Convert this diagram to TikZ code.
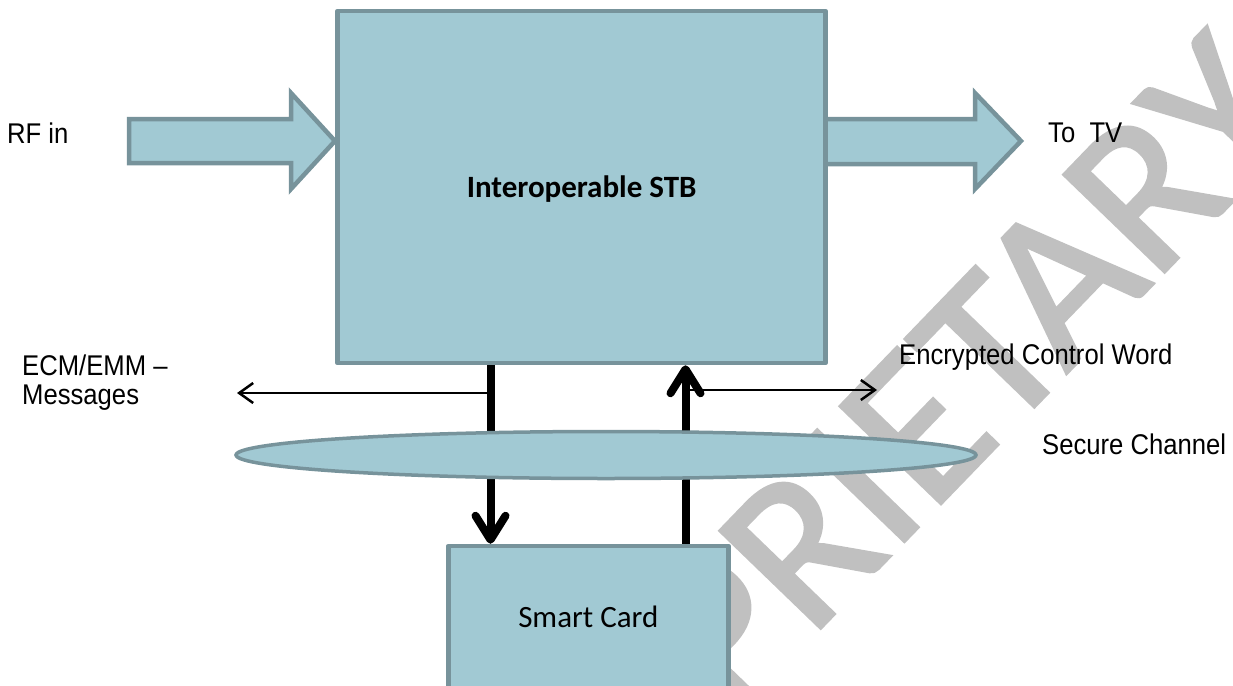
\documentclass[tikz,border=0pt]{standalone}
\usepackage{fontspec}
\setmainfont{Liberation Sans}
\newfontfamily\labelfont[FakeStretch=0.9]{Liberation Sans}
\newfontfamily\boxfont{Carlito}
\newfontfamily\wmfont[FakeBold=1.6]{Carlito}
\usetikzlibrary{arrows.meta,shapes.geometric}
\definecolor{stbfill}{RGB}{161,201,211}
\definecolor{stbline}{RGB}{119,147,155}
\definecolor{markgray}{RGB}{192,192,192}

\begin{document}
\begin{tikzpicture}[x=1pt,y=-1pt,
  unit/.style={rectangle, draw=stbline, fill=stbfill, line width=4.5pt,
    line join=round, inner sep=0pt, text depth=0pt},
  blockarrow/.style={draw=stbline, fill=stbfill, line width=4.5pt, line join=miter},
  bus/.style={line width=8pt, -{Straight Barb[length=24pt,width=30pt,round]}},
  msgline/.style={line width=2.5pt, -{Straight Barb[length=14pt,width=20pt]}},
  lbl/.style={inner sep=0pt, anchor=base west,
    font=\labelfont\fontsize{28.5}{29.3}\selectfont},
]
\useasboundingbox (0,0) rectangle (1233,685);

% watermark behind everything
\node[anchor=base west, rotate=46, inner sep=0pt, text=markgray,
  font=\wmfont\fontsize{218}{218}\selectfont] (wm) at (472,989) {PROPRIETARY};

% block arrows: RF input and TV output
\draw[blockarrow] (129,119) -- (291,119) -- (291,93) -- (335,141)
  -- (291,189) -- (291,163) -- (129,163) -- cycle;
\draw[blockarrow] (820,119) -- (975,119) -- (975,93) -- (1021,141)
  -- (975,189) -- (975,164) -- (820,164) -- cycle;

% set-top box and smart card
\node[unit, minimum width=488pt, minimum height=352pt,
  font=\boxfont\bfseries\fontsize{31}{31}\selectfont] (stb) at (581.6,187) {Interoperable STB};
\node[unit, minimum width=280pt, minimum height=142pt,
  font=\boxfont\fontsize{31}{31}\selectfont] (card) at (588.3,617) {Smart Card};

% links between box and card
\coordinate (tapdown) at (490.5,0);
\coordinate (tapup) at (685.5,0);
\coordinate (msgend) at (237,393);
\coordinate (cwend) at (877,390);
\draw[bus] (stb.south -| tapdown) -- (card.north -| tapdown);
\draw[bus] (card.north -| tapup) -- (stb.south -| tapup);
\draw[msgline] (tapdown |- msgend) -- (msgend);
\draw[msgline] (tapup |- cwend) -- (cwend);

% secure channel
\node[ellipse, draw=stbline, fill=stbfill, line width=3.5pt, inner sep=0pt,
  minimum width=740pt, minimum height=47pt] (chan) at (606,455) {};

% labels
\node[lbl] (rf) at (7,143) {RF in};
\node[lbl] (tv) at (1048,142.7) {To\ \ TV};
\node[lbl] (cw) at (899,364.3) {Encrypted Control Word};
\node[lbl] (sc) at (1042,454) {Secure Channel};
\node[lbl, anchor=north west, align=left] (ecm) at (22,354.5) {ECM/EMM –\\Messages};
\end{tikzpicture}
\end{document}
